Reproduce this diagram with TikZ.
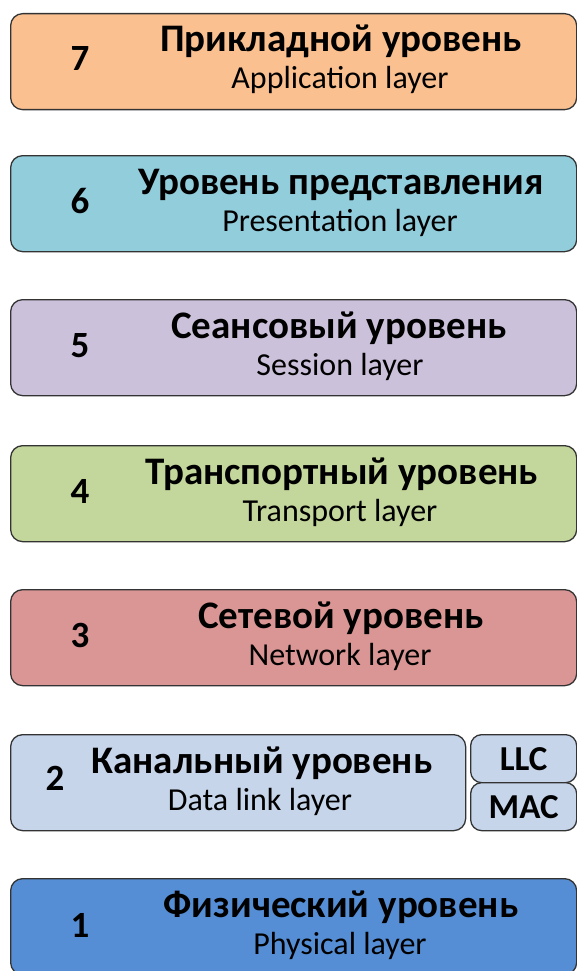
\documentclass[tikz,border=0pt]{standalone}
\usepackage{fontspec}
\setmainfont{Carlito}
\definecolor{applic}{HTML}{FAC090}
\definecolor{present}{HTML}{92CDDC}
\definecolor{session}{HTML}{CCC1DA}
\definecolor{transp}{HTML}{C3D69B}
\definecolor{netw}{HTML}{D99694}
\definecolor{datalink}{HTML}{C6D5EA}
\definecolor{phys}{HTML}{558ED5}
\begin{document}
\begin{tikzpicture}[x=1pt, y=-1pt,
    layer/.style={draw=black!80, line width=1.3pt, rounded corners=12pt, anchor=north west,
        minimum width=566pt, minimum height=96pt, inner sep=0pt},
    sublayer/.style={layer, minimum width=106pt, minimum height=48pt, rounded corners=11pt,
        font=\bfseries\fontsize{35}{37}\selectfont},
    num/.style={anchor=base, font=\bfseries\fontsize{37}{40}\selectfont},
    ttl/.style={anchor=base, font=\bfseries\fontsize{39}{42}\selectfont},
    sub/.style={anchor=base, font=\fontsize{32}{34}\selectfont}]
    \clip (0,0) rectangle (577,971);

    \node[layer, fill=applic] (l7) at (10,13) {};
    \node[num] (n7) at (80,71) {7};
    \node[ttl] (t7) at (341,52) {Прикладной уровень};
    \node[sub] (s7) at (340,89) {Application layer};

    \node[layer, fill=present] (l6) at (10,155) {};
    \node[num] (n6) at (80,213) {6};
    \node[ttl] (t6) at (341,194) {Уровень представления};
    \node[sub] (s6) at (340,231) {Presentation layer};

    \node[layer, fill=session] (l5) at (10,299) {};
    \node[num] (n5) at (80,357) {5};
    \node[ttl] (t5) at (339,338) {Сеансовый уровень};
    \node[sub] (s5) at (340,375) {Session layer};

    \node[layer, fill=transp] (l4) at (10,445) {};
    \node[num] (n4) at (80,503) {4};
    \node[ttl] (t4) at (342,484) {Транспортный уровень};
    \node[sub] (s4) at (340,521) {Transport layer};

    \node[layer, fill=netw] (l3) at (10,589) {};
    \node[num] (n3) at (80,647) {3};
    \node[ttl] (t3) at (341,628) {Сетевой уровень};
    \node[sub] (s3) at (340,665) {Network layer};

    \node[layer, fill=datalink, minimum width=455pt] (l2) at (10,734) {};
    \node[sublayer, fill=datalink] (llc) at (470,734) {LLC};
    \node[sublayer, fill=datalink] (mac) at (470,782) {MAC};
    \node[num] (n2) at (55,790) {2};
    \node[ttl] (t2) at (262,773) {Канальный уровень};
    \node[sub] (s2) at (260,810) {Data link layer};

    \node[layer, fill=phys] (l1) at (10,878) {};
    \node[num] (n1) at (80,937) {1};
    \node[ttl] (t1) at (341,917) {Физический уровень};
    \node[sub] (s1) at (340,954) {Physical layer};
\end{tikzpicture}
\end{document}
